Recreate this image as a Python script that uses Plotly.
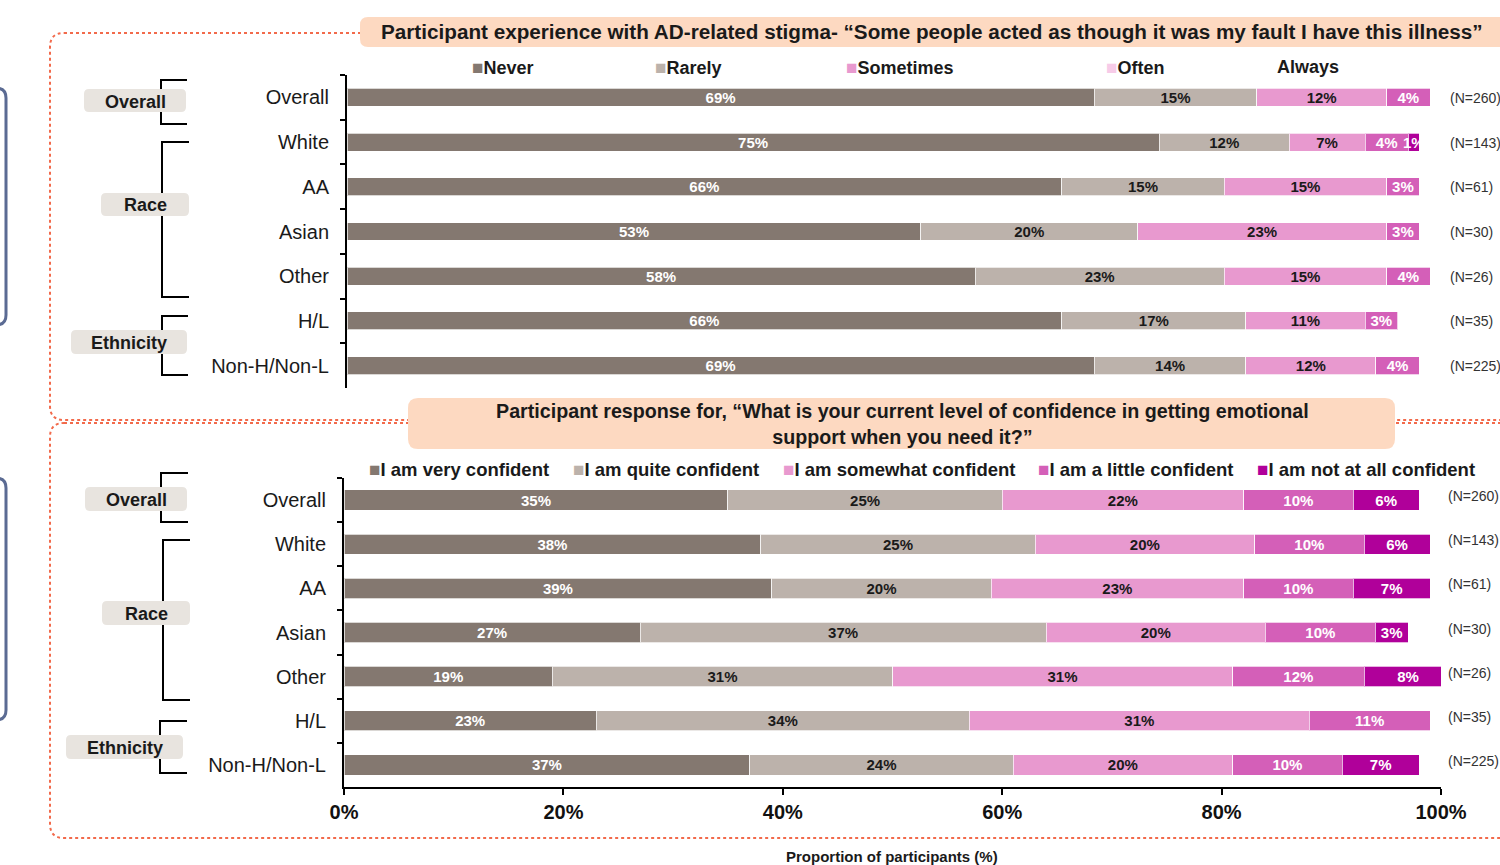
import plotly.graph_objects as go

W, H = 1500, 865
FONT = "Liberation Sans, Arial, sans-serif"

# ---------------- data ----------------
categories = ["Overall", "White", "AA", "Asian", "Other", "H/L", "Non-H/Non-L"]
n_values = [260, 143, 61, 30, 26, 35, 225]

stigma_series = ["Never", "Rarely", "Sometimes", "Often", "Always"]
stigma_never = [69, 75, 66, 53, 58, 66, 69]
stigma_rarely = [15, 12, 15, 20, 23, 17, 14]
stigma_sometimes = [12, 7, 15, 23, 15, 11, 12]
stigma_often = [4, 4, 3, 3, 4, 3, 4]
stigma_always = [0, 1, 0, 0, 0, 0, 0]

conf_series = ["I am very confident", "I am quite confident", "I am somewhat confident",
               "I am a little confident", "I am not at all confident"]
conf_very = [35, 38, 39, 27, 19, 23, 37]
conf_quite = [25, 25, 20, 37, 31, 34, 24]
conf_somewhat = [22, 20, 23, 20, 31, 31, 20]
conf_little = [10, 10, 10, 10, 12, 11, 10]
conf_not = [6, 6, 7, 3, 8, 0, 7]

x_ticks = [0, 20, 40, 60, 80, 100]
x_tick_labels = ["0%", "20%", "40%", "60%", "80%", "100%"]

bar_colors = ["#847870", "#bcb2ab", "#e899cf", "#d45fb8", "#b0009a"]
text_colors = ["white", "#1a1a1a", "#1a1a1a", "white", "white"]
stigma_legend_colors = ["#847870", "#bcb2ab", "#e899cf", "#f7cbe8", None]


def X(px):
    return px / W


def Y(py):
    return 1 - py / H


fig = go.Figure()

stigma_data = [stigma_never, stigma_rarely, stigma_sometimes, stigma_often, stigma_always]
conf_data = [conf_very, conf_quite, conf_somewhat, conf_little, conf_not]

for name, vals, col, tcol in zip(stigma_series, stigma_data, bar_colors, text_colors):
    fig.add_trace(go.Bar(
        name=name, orientation="h", y=categories,
        x=[v if v else None for v in vals],
        text=[f"{v}%" if v else "" for v in vals],
        textposition="inside", insidetextanchor="middle", textangle=0,
        textfont=dict(family=FONT, size=15, color=tcol, weight="bold"),
        marker=dict(color=col, line=dict(color="rgba(255,255,255,0.7)", width=1)),
        width=0.4, xaxis="x", yaxis="y", showlegend=False, hoverinfo="skip",
    ))

for name, vals, col, tcol in zip(conf_series, conf_data, bar_colors, text_colors):
    fig.add_trace(go.Bar(
        name=name, orientation="h", y=categories,
        x=[v if v else None for v in vals],
        text=[f"{v}%" if v else "" for v in vals],
        textposition="inside", insidetextanchor="middle", textangle=0,
        textfont=dict(family=FONT, size=15, color=tcol, weight="bold"),
        marker=dict(color=col, line=dict(color="rgba(255,255,255,0.7)", width=1)),
        width=0.46, xaxis="x2", yaxis="y2", showlegend=False, hoverinfo="skip",
    ))

shapes = []
annotations = []


def rrect_path(x0, y0, x1, y1, r):
    return (f"M {X(x0 + r)},{Y(y0)} L {X(x1 - r)},{Y(y0)} "
            f"Q {X(x1)},{Y(y0)} {X(x1)},{Y(y0 + r)} L {X(x1)},{Y(y1 - r)} "
            f"Q {X(x1)},{Y(y1)} {X(x1 - r)},{Y(y1)} L {X(x0 + r)},{Y(y1)} "
            f"Q {X(x0)},{Y(y1)} {X(x0)},{Y(y1 - r)} L {X(x0)},{Y(y0 + r)} "
            f"Q {X(x0)},{Y(y0)} {X(x0 + r)},{Y(y0)} Z")


def add_rrect(x0, y0, x1, y1, r, fill=None, line=None, width=0, dash=None):
    shapes.append(dict(
        type="path", xref="paper", yref="paper", path=rrect_path(x0, y0, x1, y1, r),
        fillcolor=fill if fill else "rgba(0,0,0,0)",
        line=dict(color=line if line else "rgba(0,0,0,0)", width=width, dash=dash),
        layer="below" if fill is None else "above",
    ))


def add_line_path(points, color="black", width=2):
    p = " ".join(("M" if i == 0 else "L") + f" {X(a)},{Y(b)}" for i, (a, b) in enumerate(points))
    shapes.append(dict(type="path", xref="paper", yref="paper", path=p,
                       line=dict(color=color, width=width)))


def add_text(x, y, text, size, color="#1a1a1a", xanchor="center", yanchor="middle", bold=False,
             align="center", **kw):
    annotations.append(dict(
        xref="paper", yref="paper", x=X(x), y=Y(y), text=text, showarrow=False,
        xanchor=xanchor, yanchor=yanchor, align=align,
        font=dict(family=FONT, size=size, color=color, weight="bold" if bold else "normal"),
        **kw,
    ))


# side blue-gray rounded frames (cut off at left)
add_rrect(-40, 88, 6, 325, 10, line="#5b6b93", width=3)
add_rrect(-40, 478, 6, 720, 10, line="#5b6b93", width=3)

# dotted panel frames
add_rrect(50, 33, 1540, 420, 14, line="#f26a4b", width=2, dash="dot")
add_rrect(50, 423, 1540, 838, 14, line="#f26a4b", width=2, dash="dot")

# title boxes
add_rrect(360, 17, 1520, 47, 8, fill="#fdd9c1")
add_text(932, 32, "Participant experience with AD-related stigma- “Some people acted as though it was my fault I have this illness”",
         20.7, bold=True)
add_rrect(408, 398, 1395, 449, 10, fill="#fdd9c1")
add_text(902, 424, "Participant response for, “What is your current level of confidence in getting emotional<br>support when you need it?”",
         19.7, bold=True)

# group brackets and labels
groups = [
    # (vertical x, top y, bottom y, arm end x, box x0, box y0, box x1, box y1, label)
    (161, 80, 124, 187, 84, 89, 186, 112, "Overall"),
    (162, 142, 297, 189, 101, 193, 189, 216, "Race"),
    (162, 316, 375, 188, 71, 330, 187, 354, "Ethnicity"),
    (161, 473, 522, 188, 85, 487, 187, 511, "Overall"),
    (163, 540, 700, 190, 102, 601, 190, 625, "Race"),
    (160, 721, 773, 187, 66, 735, 183, 759, "Ethnicity"),
]
for vx, ty, by, ax, bx0, by0, bx1, by1, lab in groups:
    add_line_path([(ax, ty), (vx, ty), (vx, by), (ax, by)])
for vx, ty, by, ax, bx0, by0, bx1, by1, lab in groups:
    add_rrect(bx0, by0, bx1, by1, 5, fill="#e8e4df")
    add_text((bx0 + bx1) / 2, (by0 + by1) / 2 + 1, lab, 18, bold=True)

# legends (top)
top_leg_x = [470, 653, 844, 1104, 1275]
for xx, name, col in zip(top_leg_x, stigma_series, stigma_legend_colors):
    mk = f'<span style="color:{col};font-size:19px">■</span>' if col else ""
    add_text(xx, 67, mk + name, 18, xanchor="left", bold=True)

# legends (bottom)
bot_leg_x = [367, 571, 781, 1036, 1255]
for xx, name, col in zip(bot_leg_x, conf_series, bar_colors):
    mk = f'<span style="color:{col};font-size:19px">■</span>'
    add_text(xx, 470, mk + name, 18.5, xanchor="left", bold=True)

# N labels
top_rows_y = [97 + i * 44.67 for i in range(7)]
bot_rows_y = [498 + i * 44.2 for i in range(7)]
for yy, n in zip(top_rows_y, n_values):
    add_text(1448, yy + 1, f"(N={n})", 14, color="#333333", xanchor="left", align="left")
for yy, n in zip(bot_rows_y, n_values):
    add_text(1446, yy - 2, f"(N={n})", 14, color="#333333", xanchor="left", align="left")

add_text(892, 856, "Proportion of participants (%)", 15, bold=True)

yaxis_common = dict(
    type="category", categoryorder="array", categoryarray=categories, autorange="reversed",
    showline=True, linecolor="black", linewidth=2, ticks="outside", tickson="boundaries",
    ticklen=5, tickwidth=2, tickcolor="black", showgrid=False, zeroline=False,
    tickfont=dict(family=FONT, size=20, color="#1a1a1a"), ticklabelstandoff=12,
    automargin=False,
)

fig.update_layout(
    width=W, height=H, autosize=False,
    margin=dict(l=0, r=0, t=0, b=0, autoexpand=False),
    paper_bgcolor="white", plot_bgcolor="rgba(0,0,0,0)",
    barmode="stack",
    uniformtext=dict(minsize=15, mode="show"),
    xaxis=dict(domain=[X(347), X(1430)], range=[0, 100], anchor="y", visible=False,
               fixedrange=True, automargin=False),
    yaxis=dict(domain=[Y(388), Y(75)], anchor="x", **yaxis_common),
    xaxis2=dict(domain=[X(344), X(1441)], range=[0, 100], anchor="y2", automargin=False,
                showline=True, linecolor="black", linewidth=2, ticks="outside", ticklen=6,
                tickwidth=2, tickcolor="black", tickvals=x_ticks, ticktext=x_tick_labels,
                showgrid=False, zeroline=False,
                tickfont=dict(family=FONT, size=20, color="#111111", weight="bold")),
    yaxis2=dict(domain=[Y(787), Y(478)], anchor="x2", **yaxis_common),
    shapes=shapes, annotations=annotations,
    showlegend=False,
)

fig.write_html(
    "out.html",
    config={"displayModeBar": False},
    post_script="document.body.style.margin='0';document.body.style.overflow='hidden';",
)
